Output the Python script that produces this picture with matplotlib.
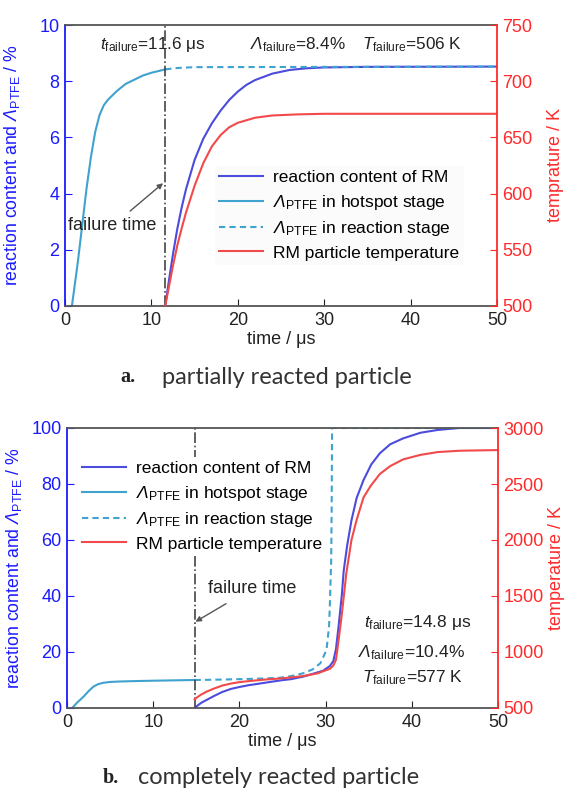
import matplotlib
matplotlib.use("Agg")
import matplotlib.pyplot as plt

plt.rcParams['font.family'] = ['Liberation Sans', 'DejaVu Sans']
plt.rcParams['mathtext.fontset'] = 'custom'
plt.rcParams['mathtext.rm'] = 'Liberation Sans'
plt.rcParams['mathtext.it'] = 'Liberation Sans:italic'
plt.rcParams['mathtext.sf'] = 'Liberation Sans:italic'

# ---------------- panel a data ----------------
a_hot_t = [0.8, 1.5, 2.0, 2.5, 3.0, 3.5, 4.0, 4.5, 5, 6, 7, 8, 9, 10, 11.6]
a_hot_v = [0, 1.6, 2.9, 4.2, 5.3, 6.2, 6.8, 7.15, 7.35, 7.65, 7.9, 8.05, 8.2, 8.3, 8.42]
a_rs_t = [11.6, 13, 15, 50]
a_rs_v = [8.42, 8.47, 8.5, 8.52]
a_rm_t = [11.6, 12.0, 12.5, 13, 13.5, 14, 15, 16, 17, 18, 19, 20, 21, 22, 24, 26, 28, 30, 35, 50]
a_rm_v = [0, 0.85, 1.85, 2.75, 3.5, 4.15, 5.2, 5.95, 6.5, 6.95, 7.33, 7.63, 7.87, 8.04, 8.27, 8.4, 8.46, 8.49, 8.51, 8.52]
a_T_t = [11.6, 12, 12.5, 13, 13.5, 14, 15, 16, 17, 18, 19, 20, 22, 24, 27, 30, 50]
a_T_v = [500, 516, 536, 554, 569, 583, 607, 627, 642, 652, 659, 663, 667.5, 669.5, 670.5, 671, 671]
a_fail = 11.6

# ---------------- panel b data ----------------
b_hot_t = [0.6, 1.2, 1.9, 2.5, 3.05, 3.6, 4.2, 5, 6, 7.7, 10, 12, 14.8]
b_hot_v = [0, 2.0, 4.0, 6.0, 7.6, 8.5, 9.0, 9.3, 9.45, 9.6, 9.75, 9.85, 10.0]
b_rs_t = [14.8, 17, 20, 22.5, 24.7, 26, 27.4, 28.5, 29.4, 30.1, 30.4, 30.5, 30.65, 30.7, 30.75, 50]
b_rs_v = [10, 10.1, 10.3, 10.5, 10.8, 11.4, 12.4, 13.8, 16, 20.7, 29, 37.4, 52.9, 70, 100, 100]
b_rm_t = [14.8, 15.2, 15.6, 16.2, 17, 18, 19, 20, 21, 22.5, 24, 25, 26, 27.4, 28.5, 29.7, 30.5, 30.9,
          31.2, 31.5, 31.9, 32.1, 32.5, 33, 33.6, 34.4, 35.3, 36.3, 37.5, 39, 41, 43, 45.5, 50]
b_rm_v = [0, 1.0, 1.9, 2.9, 4.2, 5.7, 6.8, 7.5, 8.1, 8.8, 9.5, 9.95, 10.3, 11.2, 12.2, 13.3, 15.0, 16.8,
          21, 29, 41, 49, 58, 67, 75, 81.4, 87, 91, 94.2, 96.3, 98.3, 99.3, 100, 100]
b_T_t = [14.8, 15.0, 15.5, 16.2, 17, 18, 19, 20, 21.2, 23, 25, 27.4, 29, 30.5, 30.9, 31.2, 31.5, 31.9,
         32.4, 33, 33.6, 34.4, 35.2, 36.3, 37.5, 39, 41, 43, 45.5, 50]
b_T_v = [577, 590, 617, 646, 672, 700, 718, 731, 741, 754, 765, 785, 808, 850, 880, 930, 1100, 1350,
         1700, 2000, 2180, 2380, 2480, 2590, 2660, 2720, 2760, 2785, 2797, 2803]
b_fail = 14.8

x_ticks = [0, 10, 20, 30, 40, 50]
a_left_ticks = [0, 2, 4, 6, 8, 10]
a_right_ticks = [500, 550, 600, 650, 700, 750]
b_left_ticks = [0, 20, 40, 60, 80, 100]
b_right_ticks = [500, 1000, 1500, 2000, 2500, 3000]

labels = ['reaction content of RM',
          r'$\mathsf{\Lambda}_{\mathrm{PTFE}}$ in hotspot stage',
          r'$\mathsf{\Lambda}_{\mathrm{PTFE}}$ in reaction stage',
          'RM particle temperature']

C_RM = '#4b4bdc'
C_HOT = '#3fa2cf'
C_T = '#f24a4a'
C_LEFT = '#1a1aff'
C_RIGHT = '#ff2a2a'
C_SP = '#555555'

W, H = 569, 789
fig = plt.figure(figsize=(W / 100, H / 100), dpi=100)


def make_axes(l, r, t, b):
    return fig.add_axes([l / W, 1 - b / H, (r - l) / W, (b - t) / H])


def style(ax, ax2, lt, rt, ylim, ylim2, rlabel):
    ax.set_xlim(0, 50)
    ax.set_ylim(*ylim)
    ax2.set_ylim(*ylim2)
    ax.set_xticks(x_ticks)
    ax.set_yticks(lt)
    ax2.set_yticks(rt)
    for s in ['top', 'bottom']:
        ax.spines[s].set_color(C_SP)
        ax2.spines[s].set_visible(False)
    ax.spines['left'].set_color(C_LEFT)
    ax.spines['right'].set_visible(False)
    ax2.spines['left'].set_visible(False)
    ax2.spines['right'].set_color(C_RIGHT)
    for sp in list(ax.spines.values()) + list(ax2.spines.values()):
        sp.set_linewidth(1.3)
    ax.tick_params(axis='x', direction='in', length=5, colors='#222222', labelsize=13, pad=4)
    ax.tick_params(axis='y', direction='in', length=5, color=C_LEFT, labelcolor=C_LEFT, labelsize=13, pad=4)
    ax2.tick_params(axis='y', direction='in', length=5, color=C_RIGHT, labelcolor=C_RIGHT, labelsize=13, pad=4)
    ax.set_xlabel('time / μs', fontsize=13, color='#222222', labelpad=2)
    ax.set_ylabel(r'reaction content and $\mathsf{\Lambda}_{\mathrm{PTFE}}$ / %', fontsize=12.8, color=C_LEFT)
    ax.yaxis.set_label_coords(-0.099, 0.5)
    ax2.set_ylabel(rlabel, fontsize=13, color=C_RIGHT, rotation=90)
    ax2.yaxis.set_label_coords(1.115, 0.5)


# ---------------- panel a ----------------
ax = make_axes(65, 497, 25, 306)
ax2 = ax.twinx()
l1, = ax.plot(a_rm_t, a_rm_v, color=C_RM, lw=1.5)
l2, = ax.plot(a_hot_t, a_hot_v, color=C_HOT, lw=1.5)
l3, = ax.plot(a_rs_t, a_rs_v, color=C_HOT, lw=1.5, ls=(0, (3, 2)))
l4, = ax2.plot(a_T_t, a_T_v, color=C_T, lw=1.5)
ax.axvline(a_fail, color='#444444', lw=1.2, ls='-.')
style(ax, ax2, a_left_ticks, a_right_ticks, (0, 10), (500, 750), 'temprature / K')
ax.annotate('failure time', xy=(11.35, 4.37), xytext=(5.5, 2.85), fontsize=13, color='#222222',
            ha='center', va='center',
            arrowprops=dict(arrowstyle='-|>', color='#555555', lw=1.0, mutation_scale=8, shrinkA=4, shrinkB=0))
ax.text(4.0, 9.3, r'$\mathit{t}_{\mathrm{failure}}$=11.6 μs', fontsize=12.3, va='center', color='#222222')
ax.text(21.4, 9.3, r'$\mathsf{\Lambda}_{\mathrm{failure}}$=8.4%', fontsize=12.3, va='center', color='#222222')
ax.text(34.4, 9.3, r'$\mathit{T}_{\mathrm{failure}}$=506 K', fontsize=12.3, va='center', color='#222222')
ax.legend([l1, l2, l3, l4], labels, loc='upper left', bbox_to_anchor=(215 / W, 1 - 166 / H),
          bbox_transform=fig.transFigure, fontsize=12.5, frameon=True, facecolor='#fbfbfb',
          edgecolor='none', framealpha=1, handlelength=2.5, handletextpad=0.6,
          labelspacing=0.42, borderpad=0.25, borderaxespad=0)

# ---------------- panel b ----------------
bx = make_axes(67, 498, 428, 708)
bx2 = bx.twinx()
m1, = bx.plot(b_rm_t, b_rm_v, color=C_RM, lw=1.5)
m2, = bx.plot(b_hot_t, b_hot_v, color=C_HOT, lw=1.5)
m3, = bx.plot(b_rs_t, b_rs_v, color=C_HOT, lw=1.5, ls=(0, (3, 2)))
m4, = bx2.plot(b_T_t, b_T_v, color=C_T, lw=1.5)
bx.axvline(b_fail, color='#444444', lw=1.2, ls='-.')
style(bx, bx2, b_left_ticks, b_right_ticks, (0, 100), (500, 3000), 'temperature / K')
bx.annotate('failure time', xy=(14.9, 30.8), xytext=(21.5, 42.8), fontsize=13, color='#222222',
            ha='center', va='center',
            arrowprops=dict(arrowstyle='-|>', color='#555555', lw=1.0, mutation_scale=8, shrinkA=6, shrinkB=0))
bx.text(0.69, 0.304, r'$\mathit{t}_{\mathrm{failure}}$=14.8 μs', transform=bx.transAxes, fontsize=12.5,
        va='center', color='#222222')
bx.text(0.675, 0.196, r'$\mathsf{\Lambda}_{\mathrm{failure}}$=10.4%', transform=bx.transAxes, fontsize=12.5,
        va='center', color='#222222')
bx.text(0.685, 0.107, r'$\mathit{T}_{\mathrm{failure}}$=577 K', transform=bx.transAxes, fontsize=12.5,
        va='center', color='#222222')
bx.legend([m1, m2, m3, m4], labels, loc='upper left', bbox_to_anchor=(78 / W, 1 - 457 / H),
          bbox_transform=fig.transFigure, fontsize=12.5, frameon=True, facecolor='white',
          edgecolor='none', framealpha=1, handlelength=2.5, handletextpad=0.6,
          labelspacing=0.42, borderpad=0.25, borderaxespad=0)

# ---------------- captions ----------------
fig.text(120 / W, 1 - 377 / H, 'a.', fontsize=14.5, fontweight='bold', family='Liberation Serif',
         va='center', color='#222222')
fig.text(162 / W, 1 - 377 / H, 'partially reacted particle', fontsize=17, family='Lato',
         va='center', color='#333333')
fig.text(103 / W, 1 - 778 / H, 'b.', fontsize=14.5, fontweight='bold', family='Liberation Serif',
         va='center', color='#222222')
fig.text(138 / W, 1 - 778 / H, 'completely reacted particle', fontsize=17, family='Lato',
         va='center', color='#333333')

fig.savefig('out.png', dpi=100)
